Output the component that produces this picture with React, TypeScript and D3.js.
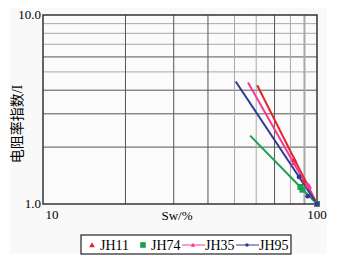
import React from "react";
import * as d3 from "d3";

const seriesNames = ["JH11", "JH74", "JH35", "JH95"];
const seriesColors = ["#e8262a", "#19a04f", "#ee3c9a", "#2e3a8f"];
const seriesMarkers = ["triangle", "square", "triangle", "circle"];
// trend lines: [Sw, I] start and end
const fitSw = [[60.5, 100], [57, 100], [56, 100], [50.5, 100]];
const fitI = [[4.25, 1], [2.3, 1], [4.4, 1], [4.45, 1]];
// measured points
const ptSw = [
  [82.5, 90, 93, 100],
  [87, 88.5, 100],
  [82, 92, 93.5, 100],
  [86, 92.5, 100],
];
const ptI = [
  [1.72, 1.33, 1.25, 1],
  [1.23, 1.19, 1],
  [1.65, 1.27, 1.24, 1],
  [1.39, 1.1, 1],
];
const xGrid = [20, 30, 40, 50, 60, 70, 80, 90];
const yGrid = [2, 3, 4, 5, 6, 7, 8, 9];
const xGridDark = [20, 30, 40, 70];
const yGridDark = [2, 3, 4, 6];

const W = 339, H = 263;
const L = 43, R = 317, T = 15, B = 204;

function Marker({ type, x, y, color, s = 3 }: any) {
  if (type === "triangle")
    return <path d={`M${x},${y - s}L${x + s},${y + s * 0.8}L${x - s},${y + s * 0.8}Z`} fill={color} />;
  if (type === "square")
    return <rect x={x - s} y={y - s} width={2 * s} height={2 * s} fill={color} />;
  return <circle cx={x} cy={y} r={s * 0.8} fill={color} />;
}

export default function App() {
  const x = d3.scaleLog().domain([10, 100]).range([L, R]);
  const y = d3.scaleLog().domain([1, 10]).range([B, T]);
  const line = d3.line<[number, number]>().x((d) => x(d[0])).y((d) => y(d[1]));
  const font = "Liberation Serif";
  const cjk = "Noto Sans CJK SC";
  const legendX = [92, 143, 193, 247];
  return (
    <div style={{ margin: -8 }}>
      <svg width={W} height={H} style={{ display: "block", background: "#fff" }}>
        <rect x={10} y={4} width={317} height={250} fill="#f9f9f9" />
        <rect x={L} y={T} width={R - L} height={B - T} fill="#fbfbfb" />
        {yGrid.map((v) => (
          <line key={"y" + v} x1={L} x2={R} y1={y(v)} y2={y(v)}
            stroke={yGridDark.includes(v) ? "#555" : "#a8a8a8"} strokeWidth={1} />
        ))}
        {xGrid.map((v) => (
          <line key={"x" + v} x1={x(v)} x2={x(v)} y1={T} y2={B}
            stroke={xGridDark.includes(v) ? "#555" : "#a8a8a8"} strokeWidth={v === 90 ? 2 : 1} />
        ))}
        <rect x={L} y={T} width={R - L} height={B - T} fill="none" stroke="#333" strokeWidth={1.5} />
        {seriesNames.map((n, i) => (
          <path key={"f" + n}
            d={line(fitSw[i].map((s, j) => [s, fitI[i][j]]) as [number, number][]) || ""}
            stroke={seriesColors[i]} strokeWidth={2} fill="none" />
        ))}
        {seriesNames.map((n, i) =>
          ptSw[i].map((s, j) => (
            <Marker key={n + j} type={seriesMarkers[i]} x={x(s)} y={y(ptI[i][j])} color={seriesColors[i]} />
          ))
        )}
        <g style={{ fontFamily: font, fontSize: 13 }}>
          <text x={41} y={19} textAnchor="end">10.0</text>
          <text x={41} y={208} textAnchor="end">1.0</text>
          <text x={x(10) + 9} y={219} textAnchor="middle">10</text>
          <text x={x(100)} y={219} textAnchor="middle">100</text>
          <text x={177} y={220} textAnchor="middle">Sw/%</text>
          <text transform="translate(22,124) rotate(-90)" textAnchor="middle" style={{ fontFamily: cjk, fontSize: 14 }}>
            电阻率指数<tspan style={{ fontFamily: font }}>/I</tspan>
          </text>
        </g>
        <rect x={81} y={235} width={210} height={19} fill="#fff" stroke="#222" strokeWidth={1.2} />
        {seriesNames.map((n, i) => (
          <g key={"lg" + n}>
            {i >= 2 && (
              <line x1={legendX[i] - 11} x2={legendX[i] + 12} y1={245} y2={245} stroke={seriesColors[i]} strokeWidth={1} />
            )}
            <Marker type={seriesMarkers[i]} x={legendX[i]} y={245} color={seriesColors[i]} s={i >= 2 ? 2.2 : 2.8} />
            <text x={legendX[i] + (i >= 2 ? 12 : 8)} y={250} style={{ fontFamily: font, fontSize: 14 }}>{n}</text>
          </g>
        ))}
      </svg>
    </div>
  );
}
